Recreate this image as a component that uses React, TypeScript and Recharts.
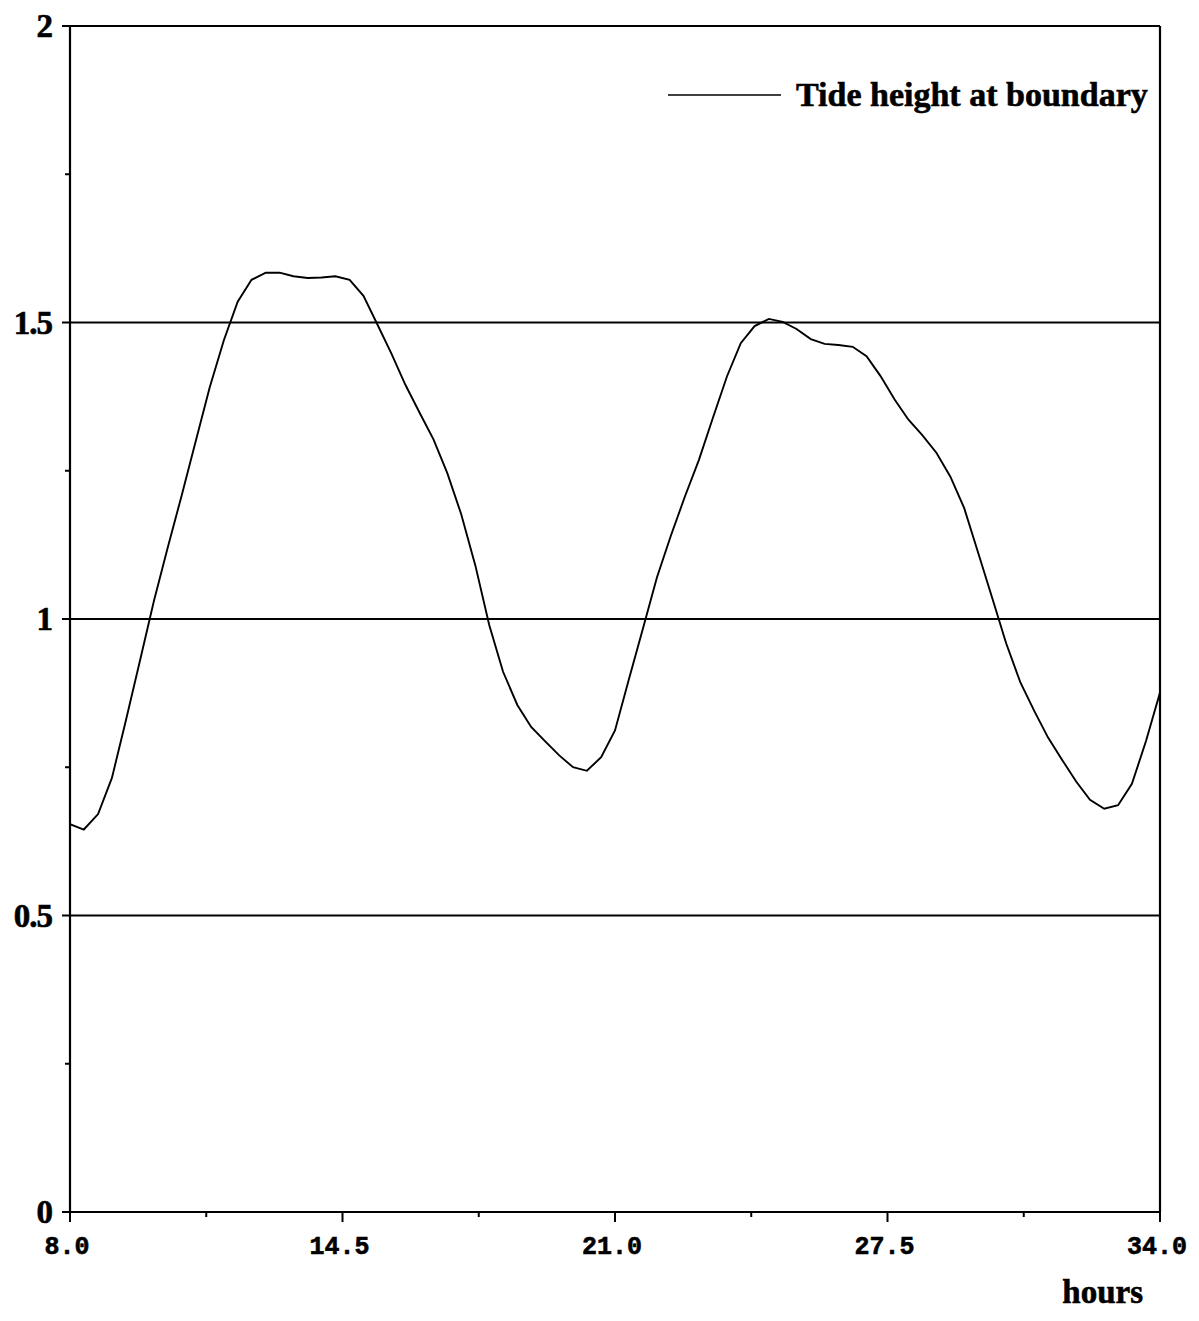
import React from 'react';
import { LineChart, Line, XAxis, YAxis, ReferenceLine, Legend } from 'recharts';

const hours = [
  8.0, 8.33, 8.67, 9.0, 9.33, 9.67, 10.0, 10.33, 10.67, 11.0, 11.33, 11.67,
  12.0, 12.33, 12.67, 13.0, 13.33, 13.67, 14.0, 14.33, 14.67, 15.0, 15.33, 15.67,
  16.0, 16.33, 16.67, 17.0, 17.33, 17.67, 18.0, 18.33, 18.67, 19.0, 19.33, 19.67,
  20.0, 20.33, 20.67, 21.0, 21.33, 21.67, 22.0, 22.33, 22.67, 23.0, 23.33, 23.67,
  24.0, 24.33, 24.67, 25.0, 25.33, 25.67, 26.0, 26.33, 26.67, 27.0, 27.33, 27.67,
  28.0, 28.33, 28.67, 29.0, 29.33, 29.67, 30.0, 30.33, 30.67, 31.0, 31.33, 31.67,
  32.0, 32.33, 32.67, 33.0, 33.33, 33.67, 34.0,
];

const tideHeight = [
  0.654, 0.645, 0.671, 0.732, 0.828, 0.93, 1.03, 1.12, 1.21, 1.3, 1.39, 1.47,
  1.535, 1.572, 1.584, 1.584, 1.578, 1.575, 1.576, 1.578, 1.572, 1.545, 1.497, 1.447,
  1.395, 1.349, 1.303, 1.246, 1.177, 1.09, 0.99, 0.911, 0.855, 0.818, 0.794, 0.77,
  0.75, 0.744, 0.767, 0.812, 0.898, 0.985, 1.07, 1.14, 1.207, 1.268, 1.338, 1.409,
  1.465, 1.494, 1.506, 1.501, 1.489, 1.472, 1.464, 1.462, 1.459, 1.443, 1.41, 1.37,
  1.336, 1.31, 1.28, 1.24, 1.187, 1.11, 1.035, 0.959, 0.893, 0.845, 0.8, 0.762,
  0.726, 0.695, 0.68, 0.686, 0.722, 0.795, 0.876,
];

const xTicks = [8, 11.25, 14.5, 17.75, 21, 24.25, 27.5, 30.75, 34];
const xLabelTicks = [8, 14.5, 21, 27.5, 34];
const yTicks = [0, 0.25, 0.5, 0.75, 1, 1.25, 1.5, 1.75, 2];
const yLabelTicks = [0, 0.5, 1, 1.5, 2];
const gridValues = [0.5, 1, 1.5];

const seriesName = 'Tide height at boundary';
const xTitle = 'hours';

const data = hours.map((h, i) => ({ hour: h, tide: tideHeight[i] }));

const SERIF = '"Liberation Serif", "Times New Roman", serif';
const MONO = '"Liberation Mono", "Courier New", monospace';

const XTick = (props: any) => {
  const { x, y, payload } = props;
  const v = payload.value;
  const major = xLabelTicks.includes(v);
  const axisY = y - 8;
  return (
    <g>
      <line x1={x} x2={x} y1={axisY} y2={axisY + (major ? 10 : 5)} stroke="#000" strokeWidth={2} />
      {major && (
        <text x={x - 3} y={axisY + 42} textAnchor="middle" fontFamily={MONO} fontWeight="bold" fontSize={25} fill="#000" stroke="#000" strokeWidth={0.6}>
          {v.toFixed(1)}
        </text>
      )}
    </g>
  );
};

const YTick = (props: any) => {
  const { x, y, payload } = props;
  const v = payload.value;
  const major = yLabelTicks.includes(v);
  const axisX = x + 8;
  return (
    <g>
      <line x1={axisX - (major ? 8 : 5)} x2={axisX} y1={y} y2={y} stroke="#000" strokeWidth={2} />
      {major && (
        <text x={axisX - 18} y={y + 11} textAnchor="end" fontFamily={SERIF} fontWeight="bold" fontSize={33} fill="#000" stroke="#000" strokeWidth={0.6} letterSpacing={-1}>
          {String(v)}
        </text>
      )}
    </g>
  );
};

const HoursLabel = (props: any) => {
  const vb = props.viewBox || {};
  return (
    <text x={vb.x + vb.width - 17} y={vb.y + 91} textAnchor="end" fontFamily={SERIF} fontWeight="bold" fontSize={33} fill="#000" stroke="#000" strokeWidth={0.6}>
      {xTitle}
    </text>
  );
};

const LegendContent = () => (
  <div style={{ display: 'flex', alignItems: 'center', whiteSpace: 'nowrap' }}>
    <svg width={140} height={20} style={{ display: 'block' }}>
      <line x1={12} x2={125} y1={10} y2={10} stroke="#000" strokeWidth={1.6} />
    </svg>
    <span style={{ fontFamily: SERIF, fontWeight: 'bold', fontSize: 34, color: '#000', lineHeight: '40px', WebkitTextStroke: '0.6px #000' }}>
      {seriesName}
    </span>
  </div>
);

export default function App() {
  return (
    <div style={{ width: 1190, height: 1305, background: '#fff' }}>
      <LineChart
        width={1190}
        height={1305}
        data={data}
        margin={{ top: 18, right: 38, left: 0, bottom: 41 }}
      >
        <XAxis
          dataKey="hour"
          type="number"
          domain={[8, 34]}
          ticks={xTicks}
          interval={0}
          allowDataOverflow
          axisLine={{ stroke: '#000', strokeWidth: 2.2 }}
          tickLine={false}
          tickSize={8}
          tickMargin={0}
          height={60}
          tick={<XTick />}
          label={<HoursLabel />}
        />
        <YAxis
          type="number"
          domain={[0, 2]}
          ticks={yTicks}
          interval={0}
          allowDataOverflow
          width={62}
          axisLine={{ stroke: '#000', strokeWidth: 2.2 }}
          tickLine={false}
          tickSize={8}
          tickMargin={0}
          tick={<YTick />}
        />
        {gridValues.map((g) => (
          <ReferenceLine key={g} y={g} stroke="#000" strokeWidth={2.2} ifOverflow="extendDomain" />
        ))}
        <ReferenceLine y={2} stroke="#000" strokeWidth={2.2} />
        <ReferenceLine x={34} stroke="#000" strokeWidth={2.2} />
        <Legend
          layout="horizontal"
          verticalAlign="middle"
          align="center"
          content={<LegendContent />}
          wrapperStyle={{ position: 'absolute', top: 67, left: 648, width: 'auto', height: 'auto' }}
        />
        <Line
          type="linear"
          dataKey="tide"
          name={seriesName}
          stroke="#000"
          strokeWidth={1.9}
          dot={false}
          isAnimationActive={false}
        />
      </LineChart>
    </div>
  );
}
